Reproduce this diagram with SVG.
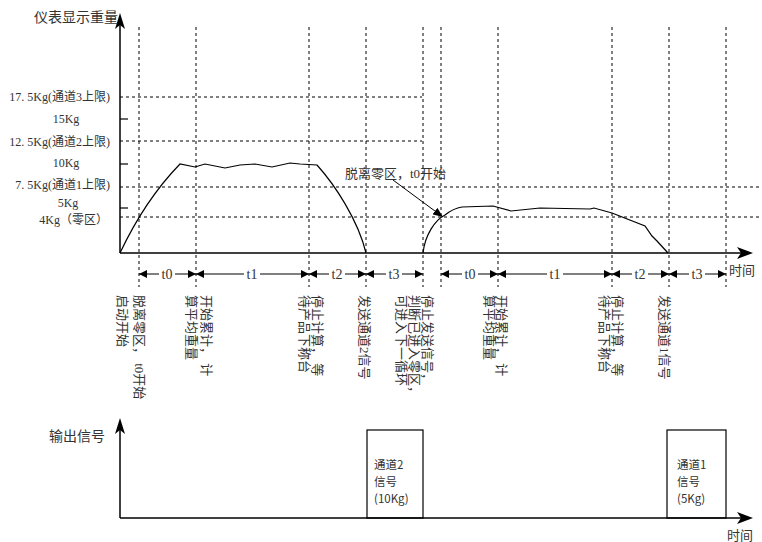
<svg xmlns="http://www.w3.org/2000/svg" width="762" height="542" viewBox="0 0 762 542">
<defs>
<style>
.dash{stroke:#000;stroke-width:1;stroke-dasharray:3 3;fill:none}
.axis{stroke:#000;stroke-width:1.5;fill:none}
.curve{stroke:#000;stroke-width:1.2;fill:none}
.tk{stroke:#000;stroke-width:1.2}
.seg{stroke:#000;stroke-width:1;marker-start:url(#ah);marker-end:url(#ah)}
text{font-family:"Liberation Serif","Noto Sans CJK SC",serif;font-size:12px;fill:#333}
.lbl{font-size:12px}
.big{font-size:14px}
.v{font-size:13px}
.t{font-size:14px;text-anchor:middle}
.box{fill:none;stroke:#000;stroke-width:1.2}
.bt{font-family:"Noto Sans CJK SC",sans-serif;font-size:11.5px}
</style>
<marker id="ah" viewBox="0 0 8 8" refX="8" refY="4" markerWidth="8" markerHeight="8" markerUnits="userSpaceOnUse" orient="auto-start-reverse">
<path d="M0,0 L8,4 L0,8 z" fill="#000"/>
</marker>
<marker id="ah2" viewBox="0 0 10 8" refX="10" refY="4" markerWidth="10" markerHeight="8" markerUnits="userSpaceOnUse" orient="auto">
<path d="M0,0 L10,4 L0,8 z" fill="#000"/>
</marker>
</defs>
<rect width="762" height="542" fill="#fff"/>

<g id="grid">
<line class="dash" x1="120" y1="97" x2="422" y2="97"/>
<line class="dash" x1="120" y1="141" x2="422" y2="141"/>
<line class="dash" x1="120" y1="187" x2="762" y2="187"/>
<line class="dash" x1="120" y1="217" x2="762" y2="217"/>
<line class="dash" x1="139" y1="27" x2="139" y2="287"/>
<line class="dash" x1="196" y1="27" x2="196" y2="287"/>
<line class="dash" x1="309" y1="27" x2="309" y2="287"/>
<line class="dash" x1="366" y1="27" x2="366" y2="287"/>
<line class="dash" x1="423" y1="27" x2="423" y2="287"/>
<line class="dash" x1="441" y1="27" x2="441" y2="287"/>
<line class="dash" x1="498" y1="27" x2="498" y2="287"/>
<line class="dash" x1="612" y1="27" x2="612" y2="287"/>
<line class="dash" x1="669" y1="27" x2="669" y2="287"/>
<line class="dash" x1="726" y1="27" x2="726" y2="287"/>
</g>

<g id="weight-curve">
<path class="curve" d="M120,253 Q145,200 180,164 L195,167 L205,164 L225,168 L240,165 L255,164 L272,167 L290,163 L300,164 L317,165 C335,185 358,220 366,253"/>
<path class="curve" d="M423,253 C425,235 435,220 445,215 C450,211 455,208 462,207 L493,206 L511,211 L540,208 L590,209 L594,208 L612,213 L645,226 L652,236 L657,241 L668,253"/>
</g>

<g id="axes-top">
<line class="axis" x1="120" y1="253" x2="120" y2="22"/>
<path d="M120,13 L125,29 L120,25 L115,29 Z" fill="#000"/>
<line class="axis" x1="120" y1="253" x2="744" y2="253"/>
<path d="M753,253 L737,247 L741,253 L737,259 Z" fill="#000"/>
<line class="tk" x1="120" y1="119" x2="128" y2="119"/>
<line class="tk" x1="120" y1="164" x2="128" y2="164"/>
<line class="tk" x1="120" y1="208" x2="128" y2="208"/>
<text class="big" x="118" y="22" text-anchor="end">仪表显示重量</text>
<text x="729" y="275" style="font-size:13px">时间</text>
</g>

<g id="y-labels">
<text class="lbl" x="110" y="101" text-anchor="end">17. 5Kg(通道3上限)</text>
<text class="lbl" x="66" y="123" text-anchor="middle">15Kg</text>
<text class="lbl" x="110" y="146" text-anchor="end">12. 5Kg(通道2上限)</text>
<text class="lbl" x="66" y="167" text-anchor="middle">10Kg</text>
<text class="lbl" x="110" y="189" text-anchor="end">7. 5Kg(通道1上限)</text>
<text class="lbl" x="68" y="207" text-anchor="middle">5Kg</text>
<text class="lbl" x="108" y="224" text-anchor="end">4Kg（零区）</text>
</g>

<g id="annotation">
<text x="345" y="178" class="v">脱离零区，t0开始</text>
<line class="tk" x1="393" y1="180" x2="443" y2="217" marker-end="url(#ah2)" style="stroke-width:1"/>
</g>

<g id="intervals">
<line class="seg" x1="139" y1="274" x2="196" y2="274"/>
<line class="seg" x1="196" y1="274" x2="309" y2="274"/>
<line class="seg" x1="309" y1="274" x2="366" y2="274"/>
<line class="seg" x1="366" y1="274" x2="423" y2="274"/>
<line class="seg" x1="441" y1="274" x2="498" y2="274"/>
<line class="seg" x1="498" y1="274" x2="612" y2="274"/>
<line class="seg" x1="612" y1="274" x2="669" y2="274"/>
<line class="seg" x1="669" y1="274" x2="726" y2="274"/>
<g fill="#fff">
<rect x="159" y="266" width="16" height="16"/>
<rect x="244" y="266" width="16" height="16"/>
<rect x="329" y="266" width="16" height="16"/>
<rect x="386" y="266" width="16" height="16"/>
<rect x="462" y="266" width="16" height="16"/>
<rect x="547" y="266" width="16" height="16"/>
<rect x="632" y="266" width="16" height="16"/>
<rect x="689" y="266" width="16" height="16"/>
</g>
<text class="t" x="167" y="279">t0</text>
<text class="t" x="252" y="279">t1</text>
<text class="t" x="337" y="279">t2</text>
<text class="t" x="394" y="279">t3</text>
<text class="t" x="470" y="279">t0</text>
<text class="t" x="555" y="279">t1</text>
<text class="t" x="640" y="279">t2</text>
<text class="t" x="697" y="279">t3</text>
</g>

<g id="event-labels">
<text class="v" transform="translate(118,295) rotate(90)">启动开始</text>
<text class="v" transform="translate(135,295) rotate(90)">脱离零区，  t0开始</text>
<text class="v" transform="translate(202,295) rotate(90)">开始累计，  计</text>
<text class="v" transform="translate(187,295) rotate(90)">算平均重量</text>
<text class="v" transform="translate(313,295) rotate(90)">停止计算，  等</text>
<text class="v" transform="translate(300,295) rotate(90)">待产品下称台</text>
<text class="v" transform="translate(360,295) rotate(90)">发送通道2信号</text>
<text class="v" transform="translate(423,295) rotate(90)">停止发送信号，</text>
<text class="v" transform="translate(410,295) rotate(90)">判断已进入零区，</text>
<text class="v" transform="translate(397,295) rotate(90)">可进入下一循环</text>
<text class="v" transform="translate(497,295) rotate(90)">开始累计，  计</text>
<text class="v" transform="translate(485,295) rotate(90)">算平均重量</text>
<text class="v" transform="translate(613,295) rotate(90)">停止计算，  等</text>
<text class="v" transform="translate(600,295) rotate(90)">待产品下称台</text>
<text class="v" transform="translate(660,295) rotate(90)">发送通道1信号</text>
</g>

<g id="axes-bottom">
<line class="axis" x1="120" y1="518" x2="120" y2="426"/>
<path d="M120,418 L125,434 L120,430 L115,434 Z" fill="#000"/>
<line class="axis" x1="120" y1="518" x2="744" y2="518"/>
<path d="M753,518 L737,512 L741,518 L737,524 Z" fill="#000"/>
<text class="big" x="105" y="441" text-anchor="end">输出信号</text>
<text x="727" y="540" style="font-size:13px">时间</text>
</g>

<g id="signal-ch2">
<rect class="box" x="367" y="430" width="56" height="88"/>
<text class="bt" x="374" y="469">通道2</text>
<text class="bt" x="374" y="486">信号</text>
<text class="bt" x="374" y="503">(10Kg)</text>
</g>

<g id="signal-ch1">
<rect class="box" x="667" y="430" width="59" height="88"/>
<text class="bt" x="677" y="469">通道1</text>
<text class="bt" x="677" y="486">信号</text>
<text class="bt" x="677" y="503">(5Kg)</text>
</g>
</svg>
